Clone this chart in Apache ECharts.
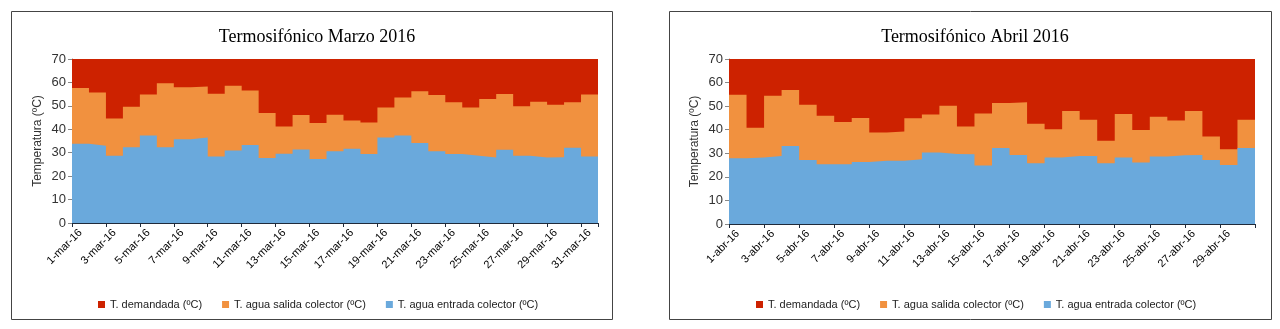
<!DOCTYPE html>
<html>
<head>
<meta charset="utf-8">
<script src="https://cdn.jsdelivr.net/npm/echarts@6/dist/echarts.min.js"></script>
<style>html,body{margin:0;padding:0;background:#fff}#c{width:1280px;height:329px}</style>
</head>
<body>
<div id="c"></div>
<script>
// ---- Data ----
const marchLabels = Array.from({length: 31}, (_, i) => (i + 1) + '-mar-16');
const aprilLabels = Array.from({length: 30}, (_, i) => (i + 1) + '-abr-16');

const marchDemanda = [70,70,70,70,70,70,70,70,70,70,70,70,70,70,70,70,70,70,70,70,70,70,70,70,70,70,70,70,70,70,70];
const marchSalida = [57.6,55.7,44.6,49.6,54.9,59.6,57.9,58.3,55.2,58.6,56.6,46.9,41.2,46.1,42.7,46.2,43.8,42.9,49.3,53.6,56.2,54.6,51.5,49.3,52.9,55.1,49.8,51.8,50.5,51.5,54.8];
const marchEntrada = [33.8,33.0,28.7,32.3,37.4,32.3,35.8,36.5,28.4,30.9,33.3,27.7,29.6,31.4,27.3,30.6,31.7,29.4,36.5,37.4,34.1,30.6,29.4,28.7,28.0,31.3,28.7,28.0,28.1,32.1,28.4];

const aprilDemanda = [70,70,70,70,70,70,70,70,70,70,70,70,70,70,70,70,70,70,70,70,70,70,70,70,70,70,70,70,70,70];
const aprilSalida = [54.8,40.8,54.4,56.9,50.6,45.9,43.3,45.0,38.8,39.2,44.9,46.5,50.2,41.4,46.9,51.3,51.7,42.5,40.2,47.9,44.2,35.3,46.7,39.9,45.5,43.9,47.9,37.1,31.7,44.2];
const aprilEntrada = [27.9,28.2,28.9,33.1,27.2,25.4,25.4,26.3,26.8,26.8,27.5,30.3,29.7,29.6,24.8,32.2,29.3,25.8,28.2,28.9,28.9,25.8,28.2,26.1,28.6,29.2,29.3,27.2,25.0,32.2];

const seriesNames = ['T. demandada (ºC)', 'T. agua salida colector (ºC)', 'T. agua entrada colector (ºC)'];
const colors = ['#cd2200', '#f1913f', '#6aa9dc'];

// ---- helpers ----
function pairs(arr) {
  const out = arr.map((v, i) => [i, v]);
  out.push([arr.length, arr[arr.length - 1]]);
  return out;
}
function mkSeries(arr, idx, axisIdx) {
  return {
    name: seriesNames[idx], type: 'line', step: 'end',
    xAxisIndex: axisIdx, yAxisIndex: axisIdx,
    data: pairs(arr), symbol: 'none', silent: true,
    lineStyle: {width: 0, color: colors[idx]},
    itemStyle: {color: colors[idx]},
    areaStyle: {color: colors[idx], opacity: 1},
    z: 2 + idx
  };
}
function mkX(labels, gridIdx) {
  const tickVals = [];
  for (let i = 0; i <= labels.length; i += 2) tickVals.push(i);
  if (tickVals[tickVals.length - 1] !== labels.length) tickVals.push(labels.length);
  const labelVals = [];
  for (let i = 0; i < labels.length; i += 2) labelVals.push(i + 0.5);
  return {
    type: 'value', gridIndex: gridIdx, min: 0, max: labels.length,
    axisLine: {show: true, lineStyle: {color: '#1f2a3a', width: 1}},
    axisTick: {show: true, length: 4, lineStyle: {color: '#1f2a3a'}, customValues: tickVals},
    splitLine: {show: false},
    axisLabel: {
      rotate: 45, margin: 8, color: '#000', fontFamily: 'Liberation Sans, Arial', fontSize: 11,
      customValues: labelVals,
      formatter: v => labels[Math.round(v - 0.5)] || ''
    }
  };
}
function mkY(gridIdx) {
  return {
    type: 'value', gridIndex: gridIdx, min: 0, max: 70, interval: 10,
    name: 'Temperatura (ºC)', nameLocation: 'middle', nameGap: 28,
    nameTextStyle: {color: '#333', fontFamily: 'Liberation Sans, Arial', fontSize: 12},
    axisLine: {show: true, lineStyle: {color: '#888', width: 1}},
    axisTick: {show: true, length: 4, lineStyle: {color: '#888'}},
    splitLine: {show: false},
    axisLabel: {color: '#333', fontFamily: 'Liberation Sans, Arial', fontSize: 13, margin: 6}
  };
}

const chart = echarts.init(document.getElementById('c'), null, {renderer: 'canvas'});
const legendText = {color: '#222', fontFamily: 'Liberation Sans, Arial', fontSize: 11};
chart.setOption({
  animation: false,
  backgroundColor: '#fff',
  title: [
    {text: 'Termosifónico Marzo 2016', left: 312, top: 23, textAlign: 'center',
     textStyle: {fontFamily: 'Liberation Serif, Times New Roman', fontWeight: 'normal', fontSize: 18, color: '#000'}},
    {text: 'Termosifónico Abril 2016', left: 970, top: 23, textAlign: 'center',
     textStyle: {fontFamily: 'Liberation Serif, Times New Roman', fontWeight: 'normal', fontSize: 18, color: '#000'}}
  ],
  legend: [
    {data: seriesNames, left: 93, top: 294, itemWidth: 7, itemHeight: 7, itemGap: 20, icon: 'rect',
     textStyle: legendText, selectedMode: false},
    {data: seriesNames, left: 751, top: 294, itemWidth: 7, itemHeight: 7, itemGap: 20, icon: 'rect',
     textStyle: legendText, selectedMode: false}
  ],
  grid: [
    {left: 72, right: 682, top: 59, bottom: 106},
    {left: 729, right: 25, top: 59, bottom: 105}
  ],
  xAxis: [mkX(marchLabels, 0), mkX(aprilLabels, 1)],
  yAxis: [mkY(0), mkY(1)],
  series: [
    mkSeries(marchDemanda, 0, 0), mkSeries(marchSalida, 1, 0), mkSeries(marchEntrada, 2, 0),
    mkSeries(aprilDemanda, 0, 1), mkSeries(aprilSalida, 1, 1), mkSeries(aprilEntrada, 2, 1)
  ],
  graphic: [
    {type: 'rect', shape: {x: 11.5, y: 11.5, width: 601, height: 308}, style: {fill: 'none', stroke: '#444', lineWidth: 1}, silent: true},
    {type: 'rect', shape: {x: 669.5, y: 11.5, width: 602, height: 308}, style: {fill: 'none', stroke: '#444', lineWidth: 1}, silent: true}
  ]
});
</script>
</body>
</html>
